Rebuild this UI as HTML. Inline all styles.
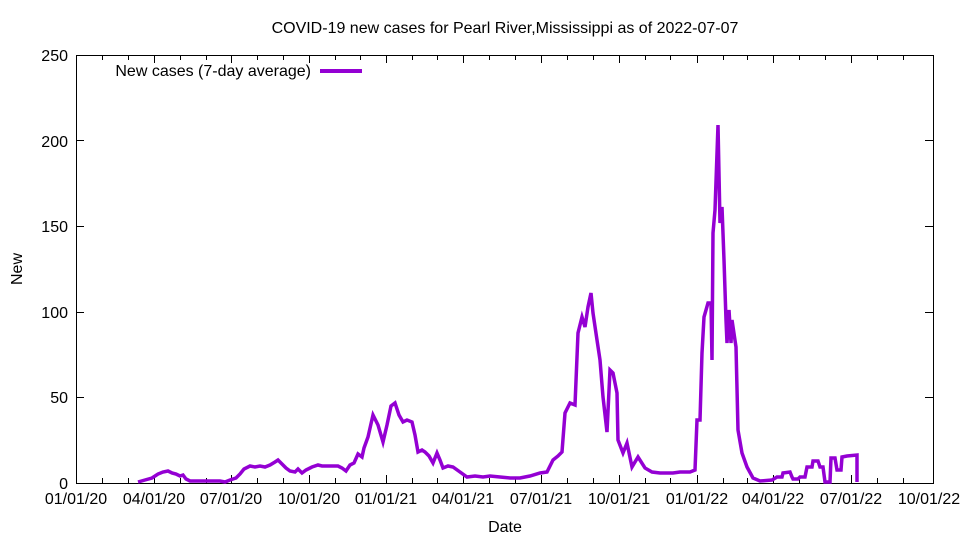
<!DOCTYPE html>
<html><head><meta charset="utf-8"><style>body{margin:0;background:#fff}svg{display:block}</style></head>
<body>
<svg width="960" height="540" xmlns="http://www.w3.org/2000/svg" font-family="Liberation Sans, sans-serif" font-size="16">
<rect width="960" height="540" fill="#fff"/>
<text x="505" y="33" text-anchor="middle">COVID-19 new cases for Pearl River,Mississippi as of 2022-07-07</text>
<g stroke="#000" stroke-width="1" fill="none">
<rect x="76.5" y="55.5" width="857" height="428"/>
<path d="M76 140.5h8M933 140.5h-8M76 226.5h8M933 226.5h-8M76 312.5h8M933 312.5h-8M76 397.5h8M933 397.5h-8"/>
<path d="M102.5 483v-5M128.5 483v-5M154.5 483v-8M180.5 483v-5M206.5 483v-5M231.5 483v-8M257.5 483v-5M283.5 483v-5M309.5 483v-8M335.5 483v-5M360.5 483v-5M386.5 483v-8M412.5 483v-5M437.5 483v-5M463.5 483v-8M489.5 483v-5M515.5 483v-5M541.5 483v-8M567.5 483v-5M593.5 483v-5M619.5 483v-8M645.5 483v-5M670.5 483v-5M697.5 483v-8M723.5 483v-5M747.5 483v-5M773.5 483v-8M799.5 483v-5M825.5 483v-5M851.5 483v-8M877.5 483v-5M903.5 483v-5"/>
<path d="M102.5 55v5M128.5 55v5M154.5 55v8M180.5 55v5M206.5 55v5M231.5 55v8M257.5 55v5M283.5 55v5M309.5 55v8M335.5 55v5M360.5 55v5M386.5 55v8M412.5 55v5M437.5 55v5M463.5 55v8M489.5 55v5M515.5 55v5M541.5 55v8M567.5 55v5M593.5 55v5M619.5 55v8M645.5 55v5M670.5 55v5M697.5 55v8M723.5 55v5M747.5 55v5M773.5 55v8M799.5 55v5M825.5 55v5M851.5 55v8M877.5 55v5M903.5 55v5"/>
</g>
<g text-anchor="end">
<text x="68" y="489">0</text><text x="68" y="403">50</text><text x="68" y="318">100</text><text x="68" y="232">150</text><text x="68" y="147">200</text><text x="68" y="61">250</text>
</g>
<g text-anchor="middle">
<text x="76" y="504">01/01/20</text><text x="154" y="504">04/01/20</text><text x="231" y="504">07/01/20</text><text x="309" y="504">10/01/20</text><text x="386" y="504">01/01/21</text><text x="463" y="504">04/01/21</text><text x="541" y="504">07/01/21</text><text x="619" y="504">10/01/21</text><text x="697" y="504">01/01/22</text><text x="773" y="504">04/01/22</text><text x="851" y="504">07/01/22</text><text x="929" y="504">10/01/22</text>
<text x="505" y="532">Date</text>
<text transform="translate(22,269) rotate(-90)">New</text>
</g>
<text x="311" y="76" text-anchor="end">New cases (7-day average)</text>
<line x1="320" y1="71" x2="362" y2="71" stroke="#9400d3" stroke-width="4"/>
<polyline fill="none" stroke="#9400d3" stroke-width="3.5" stroke-linejoin="miter" points="138,482 145,480 152,478 158,474 163,472 168,471 172,473 176,474 180,476 183,475 186,479 190,481 200,481 210,481 220,481 225,482 230,480 236,478 240,474 244,469 250,466 255,467 260,466 265,467 270,465 275,462 278,460 282,464 286,468 290,471 295,472 298,469 302,473 306,470 312,467 318,465 322,466 328,466 334,466 338,466 342,468 346,471 350,465 354,463 358,454 362,457 364,448 368,437 373,415 378,425 383,442 387,425 391,406 395,403 399,415 403,422 407,420 412,422 415,435 418,452 422,450 425,452 429,456 433,463 437,453 440,460 443,468 448,466 453,467 460,472 467,477 475,476 483,477 490,476 500,477 510,478 520,478 530,476 540,473 547,472 553,460 558,456 562,452 565,413 570,403 575,405 578,333 582,317 585,327 588,307 591,293 593,313 597,340 600,360 603,397 607,432 610,370 613,373 617,393 618,440 623,453 627,443 632,467 638,457 645,468 652,472 660,473 673,473 680,472 690,472 695,470 697,420 700,420 702,353 704,317 708,303 711,303 712,360 713,233 715,210 718,125 720,223 722,207 724,260 726,320 727,343 729,310 731,343 732,320 736,347 738,430 742,453 747,467 753,478 760,481 772,480 777,477 782,477 783,473 790,472 792,477 793,479 798,479 800,477 805,477 807,467 812,467 813,461 818,461 820,467 823,467 825,482 830,482 831,458 835,458 837,470 841,470 842,457 847,456 857,455 857,482"/>
</svg>
</body></html>
